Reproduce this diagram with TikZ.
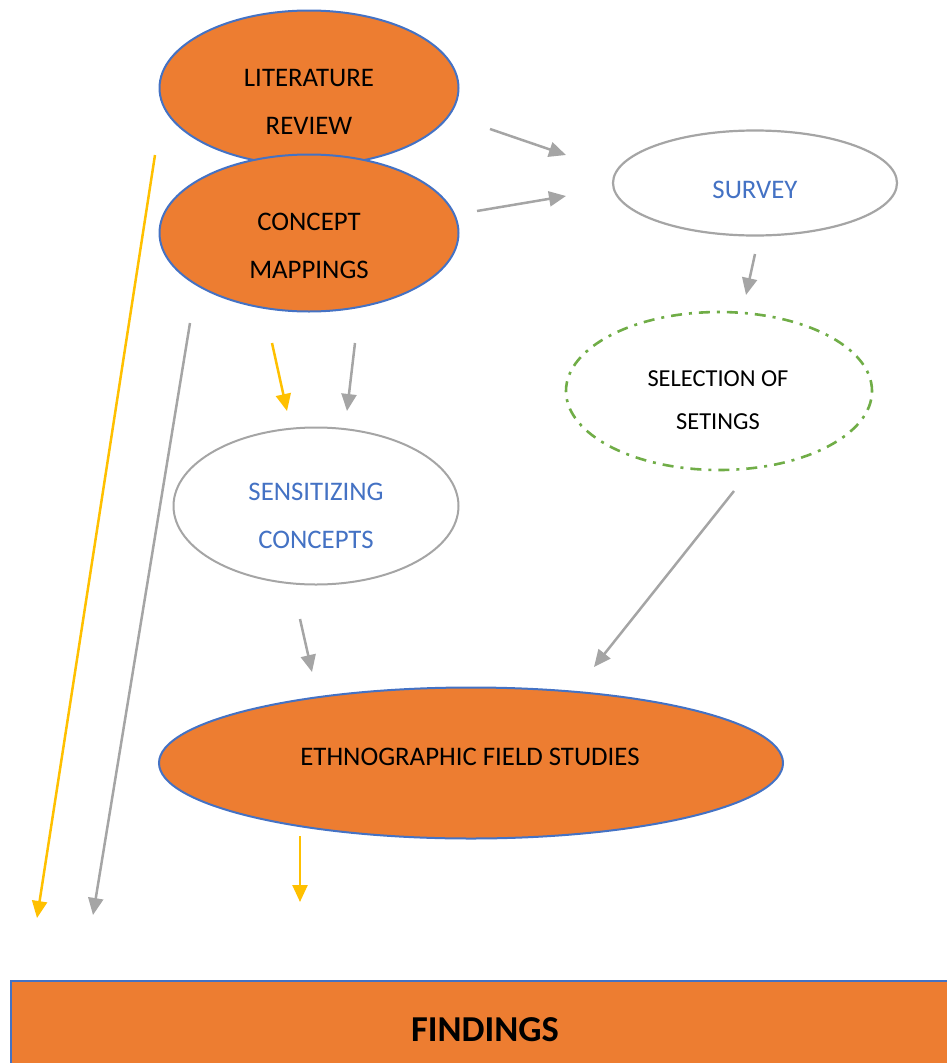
\documentclass[tikz,border=0pt]{standalone}
\usepackage{fontspec}
\setmainfont{Carlito}
\usetikzlibrary{shapes.geometric,arrows.meta}
\definecolor{orng}{HTML}{ED7D31}
\definecolor{blu}{HTML}{4472C4}
\definecolor{gry}{HTML}{A5A5A5}
\definecolor{yel}{HTML}{FFC000}
\definecolor{grn}{HTML}{70AD47}
\tikzset{
  orangeoval/.style={ellipse, inner sep=0pt, fill=orng, draw=blu, line width=2pt},
  whiteoval/.style={ellipse, inner sep=0pt, fill=white, draw=gry, line width=2.2pt},
  lbl/.style={align=center, inner sep=0pt, font=\fontsize{26.8}{48}\selectfont},
  arr/.style={line width=2.5pt, -{Triangle[length=17pt,width=15pt]}},
  garr/.style={arr, draw=gry, color=gry},
  yarr/.style={arr, draw=yel, color=yel},
}
\begin{document}
\begin{tikzpicture}[x=1pt,y=-1pt]
\useasboundingbox (0,0) rectangle (947,1063);
% findings box
\begin{scope}
\clip (0,0) rectangle (947,1063);
\node[draw=blu, fill=orng, line width=2pt, minimum width=960pt, minimum height=120pt, anchor=north west, inner sep=0pt] (fbox) at (10,980) {};
\end{scope}
\node[font=\fontsize{36.5}{40}\selectfont\bfseries, inner sep=0pt] (ftxt) at (485,1030) {FINDINGS};
% ellipses
\node[orangeoval, minimum width=299pt, minimum height=155pt] (lit) at (309,88) {};
\node[orangeoval, minimum width=299pt, minimum height=157pt] (con) at (309,233) {};
\node[whiteoval, minimum width=284pt, minimum height=105pt] (sur) at (755,183) {};
\node[ellipse, inner sep=0pt, draw=grn, line width=2.6pt, dash pattern=on 11pt off 7pt on 3pt off 7pt, minimum width=306pt, minimum height=158pt] (sel) at (719,391) {};
\node[whiteoval, line width=2pt, minimum width=285pt, minimum height=157pt] (sen) at (316,506) {};
\node[orangeoval, minimum width=624pt, minimum height=151pt] (eth) at (471,763) {};
% labels
\node[lbl] (litT) at (309,102) {LITERATURE\\REVIEW};
\node[lbl] (conT) at (309,246) {CONCEPT\\MAPPINGS};
\node[lbl, text=blu] (surT) at (755,190) {SURVEY};
\node[lbl, font=\fontsize{24.4}{43}\selectfont] (selT) at (718,400) {SELECTION OF\\SETINGS};
\node[lbl, text=blu] (senT) at (316,516) {SENSITIZING\\CONCEPTS};
\node[lbl] (ethT) at (470,757) {ETHNOGRAPHIC FIELD STUDIES};
% arrow end coordinates
\coordinate (a1s) at (490,129); \coordinate (a1e) at (566,155);
\coordinate (a2s) at (477,211); \coordinate (a2e) at (566,196);
\coordinate (a3s) at (755,254); \coordinate (a3e) at (746,295);
\coordinate (a4s) at (272,343); \coordinate (a4e) at (287,411);
\coordinate (a5s) at (355,343); \coordinate (a5e) at (347,411);
\coordinate (a6s) at (155,155); \coordinate (a6e) at (37,918);
\coordinate (a7s) at (190,323); \coordinate (a7e) at (93,915);
\coordinate (a8s) at (734,491); \coordinate (a8e) at (594,667);
\coordinate (a9s) at (300,619); \coordinate (a9e) at (312,672);
\coordinate (a10s) at (300,836); \coordinate (a10e) at (300,902);
\draw[garr] (a1s) -- (a1e);
\draw[garr] (a2s) -- (a2e);
\draw[garr] (a3s) -- (a3e);
\draw[yarr] (a4s) -- (a4e);
\draw[garr] (a5s) -- (a5e);
\draw[yarr] (a6s) -- (a6e);
\draw[garr] (a7s) -- (a7e);
\draw[garr] (a8s) -- (a8e);
\draw[garr] (a9s) -- (a9e);
\draw[yarr] (a10s) -- (a10e);
\end{tikzpicture}
\end{document}
